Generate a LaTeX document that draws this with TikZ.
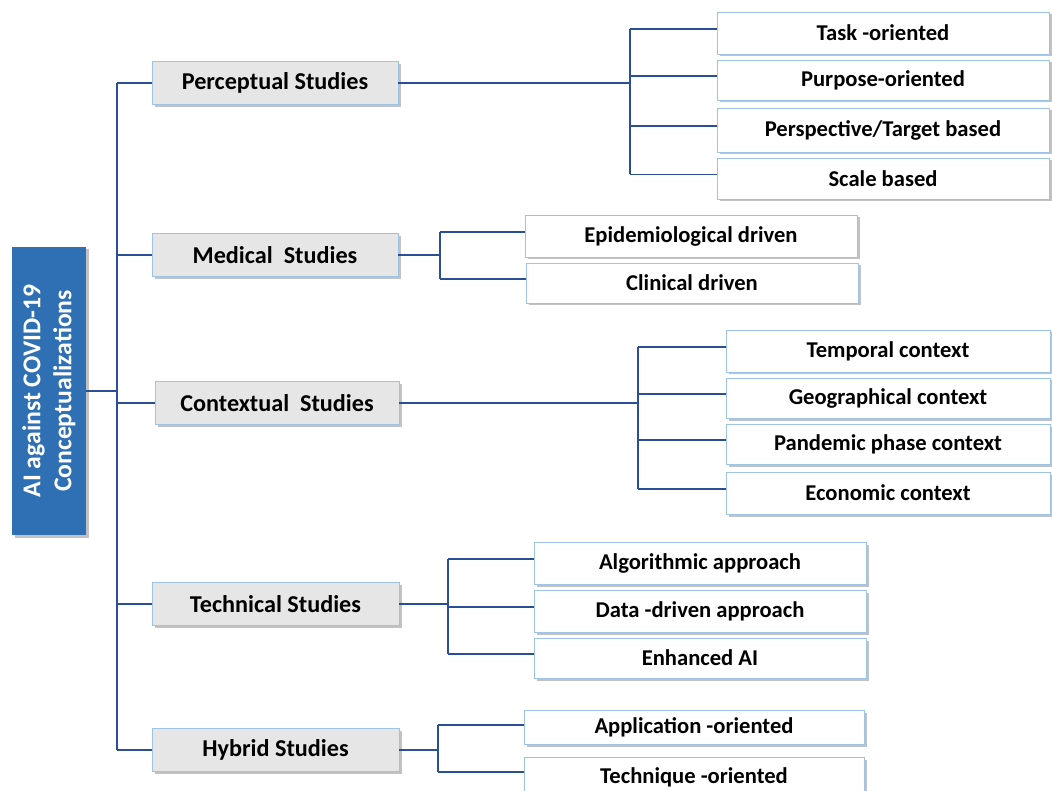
\documentclass[tikz,border=0pt]{standalone}
\usepackage{fontspec}
\setmainfont{Carlito}
\usetikzlibrary{shadows}
\definecolor{rootblue}{HTML}{2E70B3}
\definecolor{linkblue}{HTML}{2A4F96}
\definecolor{edgeblue}{HTML}{9DC3E6}
\definecolor{maingray}{HTML}{E6E6E6}
\tikzset{
  base/.style={draw=edgeblue, line width=0.9pt, inner sep=0pt, align=center, font=\bfseries,
    drop shadow={shadow xshift=2.5pt, shadow yshift=-2.5pt, opacity=0.4, fill=black!60}},
  mainbox/.style={base, fill=maingray, minimum width=246pt, minimum height=43pt, font=\bfseries\fontsize{24.2}{28}\selectfont},
  subbox/.style={base, fill=white, minimum height=42pt, font=\bfseries\fontsize{22.6}{26}\selectfont},
  rootbox/.style={fill=rootblue, minimum width=74pt, minimum height=288pt, inner sep=0pt,
    drop shadow={shadow xshift=2.5pt, shadow yshift=-2.5pt, opacity=0.4, fill=black!60}},
  link/.style={draw=linkblue, line width=1.1pt}
}
\begin{document}
\begin{tikzpicture}[x=1pt,y=-1pt]
\useasboundingbox (0,0) rectangle (1052,791);
% root
\node[rootbox] (root) at (49,391) {};
\node[rotate=90, text=white, align=center, font=\bfseries\fontsize{25.7}{31}\selectfont] (roottext) at (root.center) {AI against COVID-19\\Conceptualizations};
% main boxes
\node[mainbox] (per) at (275,83) {Perceptual Studies};
\node[mainbox] (med) at (275,255) {Medical\ \ Studies};
\node[mainbox, minimum width=244pt] (con) at (277,403) {Contextual\ \ Studies};
\node[mainbox, minimum width=247pt] (tec) at (275.5,604) {Technical Studies};
\node[mainbox, minimum width=247pt] (hyb) at (275.5,750) {Hybrid Studies};
% perceptual children
\node[subbox, minimum width=332pt] (p1) at (883,33) {Task -oriented};
\node[subbox, minimum width=332pt, minimum height=40pt] (p2) at (883,80) {Purpose-oriented};
\node[subbox, minimum width=332pt, minimum height=44pt] (p3) at (883,130) {Perspective/Target based};
\node[subbox, minimum width=332pt, minimum height=41pt] (p4) at (883,178.5) {Scale based};
% medical children
\node[subbox, minimum width=332pt] (m1) at (691,236) {Epidemiological driven};
\node[subbox, minimum width=332pt, minimum height=40pt] (m2) at (692,283) {Clinical driven};
% contextual children
\node[subbox, minimum width=324pt] (c1) at (888,351) {Temporal context};
\node[subbox, minimum width=324pt, minimum height=40pt] (c2) at (888,398) {Geographical context};
\node[subbox, minimum width=324pt, minimum height=40pt] (c3) at (888,444) {Pandemic phase context};
\node[subbox, minimum width=324pt] (c4) at (888,493) {Economic context};
% technical children
\node[subbox, minimum width=332pt] (t1) at (700,563) {Algorithmic approach};
\node[subbox, minimum width=332pt] (t2) at (700,611) {Data -driven approach};
\node[subbox, minimum width=332pt, minimum height=40pt] (t3) at (700,658) {Enhanced AI};
% hybrid children
\node[subbox, minimum width=340pt, minimum height=34pt] (h1) at (694,727) {Application -oriented};
\node[subbox, minimum width=340pt, minimum height=40pt] (h2) at (694,777) {Technique -oriented};
% stub points (slightly above box centres)
\foreach \n in {p1,p2,p3,p4,m1,m2,c1,c2,c3,c4,t1,t2,t3}{\coordinate (\n s) at ([yshift=4pt]\n.west);}
\coordinate (h1s) at ([yshift=2pt]h1.west);
\coordinate (h2s) at ([yshift=5pt]h2.west);
% junction coordinates
\coordinate (jR) at (117,391);
\coordinate (jP) at (630,85);
\coordinate (jM) at (440,255);
\coordinate (jC) at (638,403);
\coordinate (jT) at (448,604);
\coordinate (jH) at (438,750);
% trunk
\draw[link] (root.east |- jR) -- (jR);
\draw[link] (jR |- per.west) -- (jR |- hyb.west);
\foreach \n in {per,med,con,tec,hyb}{\draw[link] (jR |- \n.west) -- (\n.west);}
% perceptual
\draw[link] (per.east) -- (jP |- per.east);
\draw[link] (jP |- p1s) -- (jP |- p4s);
\foreach \n in {p1,p2,p3,p4}{\draw[link] (jP |- \n s) -- (\n s);}
% medical
\draw[link] (med.east) -- (jM |- med.east);
\draw[link] (jM |- m1s) -- (jM |- m2s);
\foreach \n in {m1,m2}{\draw[link] (jM |- \n s) -- (\n s);}
% contextual
\draw[link] (con.east) -- (jC |- con.east);
\draw[link] (jC |- c1s) -- (jC |- c4s);
\foreach \n in {c1,c2,c3,c4}{\draw[link] (jC |- \n s) -- (\n s);}
% technical
\draw[link] (tec.east) -- (jT |- tec.east);
\draw[link] (jT |- t1s) -- (jT |- t3s);
\foreach \n in {t1,t2,t3}{\draw[link] (jT |- \n s) -- (\n s);}
% hybrid
\draw[link] (hyb.east) -- (jH |- hyb.east);
\draw[link] (jH |- h1s) -- (jH |- h2s);
\foreach \n in {h1,h2}{\draw[link] (jH |- \n s) -- (\n s);}
\end{tikzpicture}
\end{document}
